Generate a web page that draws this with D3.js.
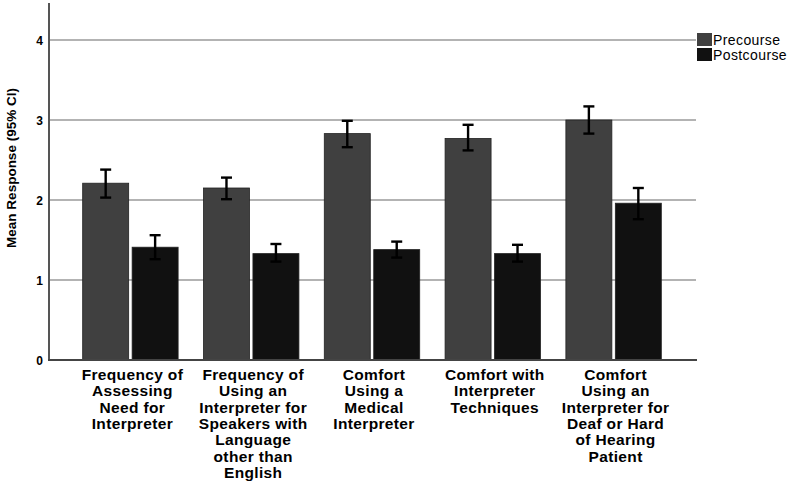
<!DOCTYPE html>
<html>
<head>
<meta charset="utf-8">
<script src="https://cdn.jsdelivr.net/npm/d3@7"></script>
<style>
	body { margin: 0; background: #fff; }
	text { font-family: "Liberation Sans", Arial, sans-serif; }
</style>
</head>
<body>
<svg id="chart" width="796" height="481"></svg>
<script>
// categories, one line per label row
var categories = [
	["Frequency of", "Assessing", "Need for", "Interpreter"],
	["Frequency of", "Using an", "Interpreter for", "Speakers with", "Language", "other than", "English"],
	["Comfort", "Using a", "Medical", "Interpreter"],
	["Comfort with", "Interpreter", "Techniques"],
	["Comfort", "Using an", "Interpreter for", "Deaf or Hard", "of Hearing", "Patient"]
];
var series = ["Precourse", "Postcourse"];
var colors = ["#404040", "#111111"];

var preMean = [2.21, 2.15, 2.83, 2.77, 3.00];
var preLow  = [2.03, 2.01, 2.66, 2.62, 2.83];
var preHigh = [2.38, 2.28, 2.99, 2.94, 3.17];

var postMean = [1.41, 1.33, 1.38, 1.33, 1.96];
var postLow  = [1.26, 1.23, 1.28, 1.23, 1.76];
var postHigh = [1.56, 1.45, 1.48, 1.44, 2.15];

var yTicks = [0, 1, 2, 3, 4];

var svg = d3.select("#chart");
var margin = {left: 49, top: 4, bottom: 360, right: 696};

var y = d3.scaleLinear().domain([0, 4.45]).range([360, 4]);
var x0 = d3.scaleBand().domain(d3.range(categories.length)).range([70, 674])
	.paddingInner(0.21).paddingOuter(0.105);
var x1 = d3.scaleBand().domain(series).range([0, x0.bandwidth()]).paddingInner(0.07);

var rows = [];
categories.forEach(function(c, i) {
	rows.push({i: i, s: series[0], mean: preMean[i], lo: preLow[i], hi: preHigh[i], col: colors[0]});
	rows.push({i: i, s: series[1], mean: postMean[i], lo: postLow[i], hi: postHigh[i], col: colors[1]});
});

// gridlines
svg.append("g").selectAll("line").data(yTicks.filter(function(d){ return d > 0; }))
	.enter().append("line")
	.attr("x1", margin.left).attr("x2", margin.right)
	.attr("y1", function(d){ return y(d); }).attr("y2", function(d){ return y(d); })
	.style("stroke", "#9a9a9a").style("stroke-width", 1.6);

// bars
svg.append("g").selectAll("rect").data(rows).enter().append("rect")
	.attr("x", function(d){ return x0(d.i) + x1(d.s); })
	.attr("y", function(d){ return y(d.mean); })
	.attr("width", x1.bandwidth())
	.attr("height", function(d){ return y(0) - y(d.mean); })
	.style("fill", function(d){ return d.col; })
	.style("stroke", "#222").style("stroke-width", 0.8);

// error bars
var eb = svg.append("g").selectAll("g").data(rows).enter().append("g")
	.attr("transform", function(d){ return "translate(" + (x0(d.i) + x1(d.s) + x1.bandwidth() / 2) + ",0)"; })
	.style("stroke", "#000").style("stroke-width", 2.4);
eb.append("line").attr("y1", function(d){ return y(d.lo); }).attr("y2", function(d){ return y(d.hi); });
eb.append("line").attr("x1", -5.5).attr("x2", 5.5)
	.attr("y1", function(d){ return y(d.hi); }).attr("y2", function(d){ return y(d.hi); });
eb.append("line").attr("x1", -5.5).attr("x2", 5.5)
	.attr("y1", function(d){ return y(d.lo); }).attr("y2", function(d){ return y(d.lo); });

// axes lines
svg.append("line").attr("x1", margin.left).attr("x2", margin.left).attr("y1", 3).attr("y2", 360)
	.style("stroke", "#555").style("stroke-width", 2);
svg.append("line").attr("x1", margin.left - 1).attr("x2", 697).attr("y1", 360).attr("y2", 360)
	.style("stroke", "#444").style("stroke-width", 2);

// y tick labels
svg.append("g").selectAll("text").data(yTicks).enter().append("text")
	.attr("x", 43).attr("y", function(d){ return y(d) + 4.5; })
	.attr("text-anchor", "end")
	.style("font-size", "12px").style("font-weight", "bold")
	.text(function(d){ return d; });

// y title
svg.append("text")
	.attr("transform", "translate(16,168) rotate(-90)")
	.attr("text-anchor", "middle")
	.style("font-size", "13.5px").style("font-weight", "bold")
	.text("Mean Response (95% CI)");

// category labels
var lab = svg.append("g").selectAll("text").data(categories).enter().append("text")
	.attr("text-anchor", "middle")
	.style("font-size", "15.5px").style("font-weight", "bold")
	.style("letter-spacing", "0.35px");
lab.selectAll("tspan").data(function(d, i){ return d.map(function(t){ return {t: t, i: i}; }); })
	.enter().append("tspan")
	.attr("x", function(d){ return x0(d.i) + x0.bandwidth() / 2 + 2; })
	.attr("y", function(d, k){ return 380 + k * 16.3; })
	.text(function(d){ return d.t; });

// legend
var leg = svg.append("g").selectAll("g").data(series).enter().append("g")
	.attr("transform", function(d, i){ return "translate(697," + (33 + i * 15) + ")"; });
leg.append("rect").attr("width", 15).attr("height", 13)
	.style("fill", function(d, i){ return colors[i]; });
leg.append("text").attr("x", 16).attr("y", 11.5)
	.style("font-size", "14px").style("letter-spacing", "0.4px")
	.text(function(d){ return d; });
</script>
</body>
</html>
